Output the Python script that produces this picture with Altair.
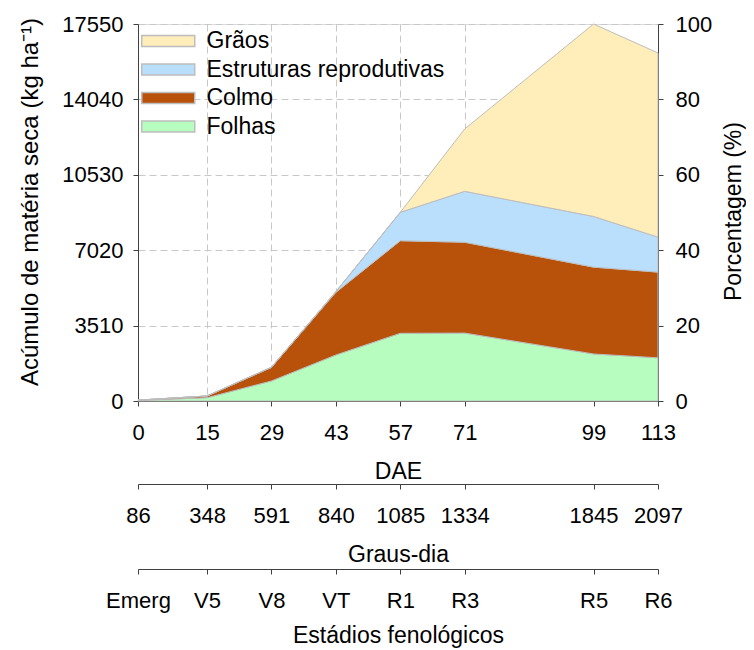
import altair as alt
import pandas as pd

# ---- data ----
dae = [0, 15, 29, 43, 57, 71, 99, 113]
graus_dia = ["86", "348", "591", "840", "1085", "1334", "1845", "2097"]
estadios = ["Emerg", "V5", "V8", "VT", "R1", "R3", "R5", "R6"]

folhas = [25, 154, 931, 2141, 3151, 3160, 2190, 2010]
colmo = [15, 79, 637, 2919, 4311, 4230, 4042, 3990]
estruturas = [0, 0, 0, 30, 1321, 2370, 2357, 1628]
graos = [0, 0, 0, 0, 0, 2906, 8961, 8573]

partes = ["Grãos", "Estruturas reprodutivas", "Colmo", "Folhas"]
cores = ["#FFEDBA", "#B9DFFC", "#B8520B", "#B7FDBF"]
y_ticks = [0, 3510, 7020, 10530, 14040, 17550]
pct_ticks = [0, 20, 40, 60, 80, 100]

FONT = "Liberation Sans"
W, H = 520, 377
AX = "#404040"

series = {"Folhas": folhas, "Colmo": colmo,
          "Estruturas reprodutivas": estruturas, "Grãos": graos}
stack_order = ["Folhas", "Colmo", "Estruturas reprodutivas", "Grãos"]
rows = []
for k, name in enumerate(stack_order):
    for d, v in zip(dae, series[name]):
        rows.append({"dae": d, "parte": name, "valor": v, "ordem": k})
df = pd.DataFrame(rows)
ticks_df = pd.DataFrame({"dae": dae})
pct_df = pd.DataFrame({"pct": [0, 100]})

xscale = alt.Scale(domain=[0, 113], nice=False, zero=False)


def lab_expr(labels):
    arr = "[" + ",".join("'%s'" % s for s in labels) + "]"
    vals = "[" + ",".join(str(v) for v in dae) + "]"
    return "%s[indexof(%s, datum.value)]" % (arr, vals)


common_x = dict(values=dae, orient="bottom", tickSize=5, labelPadding=16,
                labelFontSize=22, titleFontSize=23,
                labelFont=FONT, titleFont=FONT, labelColor="black",
                titleColor="black", titleFontWeight="normal",
                domainColor=AX, tickColor=AX, labelAngle=0,
                labelOverlap=False, labelBound=False, labelFlush=False)

area = alt.Chart(df).mark_area(stroke="#BDBDBD", strokeWidth=1).encode(
    x=alt.X("dae:Q", scale=xscale,
            axis=alt.Axis(title="DAE", grid=True, gridColor="#C8C8C8",
                          gridDash=[7, 4], format="d", titlePadding=17,
                          **common_x)),
    y=alt.Y("valor:Q", stack="zero",
            scale=alt.Scale(domain=[0, 17550], nice=False),
            axis=alt.Axis(values=y_ticks, orient="left", grid=True,
                          gridColor="#C8C8C8", gridDash=[7, 4],
                          tickSize=5, labelPadding=10, labelFontSize=22,
                          labelFont=FONT, labelColor="black", format="d",
                          labelOverlap=False,
                          domainColor=AX, tickColor=AX,
                          title="Acúmulo de matéria seca (kg ha⁻¹)",
                          titleFont=FONT, titleFontSize=24,
                          titleFontWeight="normal", titleColor="black",
                          titleAngle=270, titleX=-108, titleY=177.5,
                          titleAlign="center", titleBaseline="middle")),
    color=alt.Color("parte:N",
                    scale=alt.Scale(domain=partes, range=cores),
                    legend=alt.Legend(
                        title=None, orient="none", legendX=3, legendY=5.5,
                        symbolType="M-1.075,-0.55H4.225V0.55H-1.075Z",
                        symbolSize=400, symbolStrokeColor="#BDBDBD",
                        symbolStrokeWidth=1.5, symbolOpacity=1,
                        labelOffset=42.5, labelFontSize=23, labelFont=FONT,
                        labelColor="black", labelLimit=500,
                        rowPadding=4.5, padding=0)),
    order=alt.Order("ordem:Q", sort="ascending"),
)

axis2 = alt.Chart(ticks_df).mark_point(opacity=0).encode(
    x=alt.X("dae:Q", scale=xscale,
            axis=alt.Axis(title="Graus-dia", grid=False, offset=83,
                          titlePadding=17,
                          labelExpr=lab_expr(graus_dia), **common_x)),
)

axis3 = alt.Chart(ticks_df).mark_point(opacity=0).encode(
    x=alt.X("dae:Q", scale=xscale,
            axis=alt.Axis(title="Estádios fenológicos", grid=False,
                          offset=168, titlePadding=13,
                          labelExpr=lab_expr(estadios), **common_x)),
)

right = alt.Chart(pct_df).mark_point(opacity=0).encode(
    y=alt.Y("pct:Q", scale=alt.Scale(domain=[0, 100], nice=False),
            axis=alt.Axis(values=pct_ticks, orient="right", grid=False,
                          tickSize=5, labelPadding=12, labelFontSize=22,
                          labelFont=FONT, labelColor="black",
                          labelOverlap=False,
                          domainColor=AX, tickColor=AX,
                          title="Porcentagem (%)", titleFont=FONT,
                          titleFontSize=23, titleFontWeight="normal",
                          titleColor="black", titleAngle=270, titleX=75,
                          titleY=187, titleAlign="center",
                          titleBaseline="middle")),
)

chart = alt.layer(area, axis2, axis3, right).resolve_scale(
    y="independent"
).resolve_axis(
    x="independent", y="independent"
).properties(
    width=W, height=H,
    autosize=alt.AutoSizeParams(type="none"),
    padding={"left": 130, "top": 16, "right": 88, "bottom": 270},
).configure_view(
    stroke=AX, strokeWidth=1
).configure(
    font=FONT
)

chart.save("out.html", embed_options={"renderer": "svg", "actions": False})
